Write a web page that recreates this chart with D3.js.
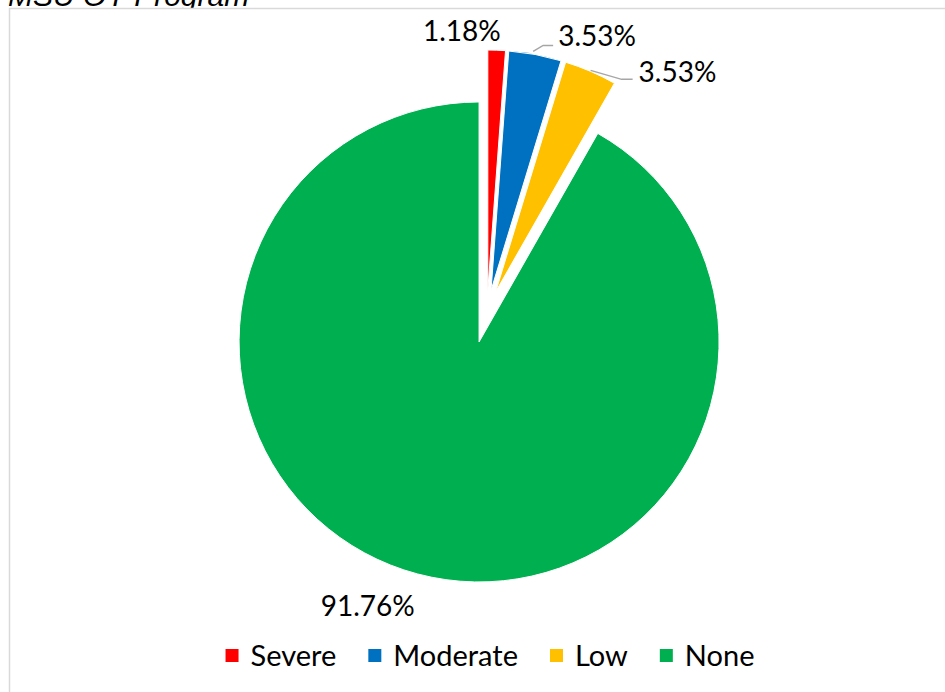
<!DOCTYPE html>
<html>
<head>
<meta charset="utf-8">
<script src="https://cdn.jsdelivr.net/npm/d3@7/dist/d3.min.js"></script>
<style>
  html, body { margin: 0; padding: 0; background: #fff; }
  svg { display: block; }
</style>
</head>
<body>
<svg id="chart" width="945" height="692"></svg>
<script>
// ---- data ----
const title = "MSU OY Program";
const categories = ["Severe", "Moderate", "Low", "None"];
const counts = [1, 3, 3, 78];
const colors = ["#FF0000", "#0070C0", "#FFC000", "#00B050"];

// ---- layout ----
const W = 945, H = 692;
const center = [487, 312];
const radius = 240;
const explode = [22, 22, 22, 31];
// label placement relative to the slice's outer mid point
const labelLayout = [
  { dx: 4, dy: -9, anchor: "end", leader: null },
  { dx: 23, dy: -8, anchor: "start", leader: [[-2, -3], [8, -9], [18, -9]] },
  { dx: 48, dy: 11, anchor: "start", leader: [[0, -1], [31, 8], [42, 8]] },
  { dx: -3, dy: 42, anchor: "end", leader: null }
];
const fontFamily = "Lato, 'Open Sans', sans-serif";
const labelSize = 28;
const legendSize = 29;

const svg = d3.select("#chart");

// title (partly cut off at the top, as in the source)
svg.append("text")
  .attr("x", 8).attr("y", 6)
  .attr("font-family", "'Liberation Sans', Arial, sans-serif")
  .attr("font-style", "italic")
  .attr("font-size", 30)
  .attr("fill", "#000")
  .text(title);

// chart area border
svg.append("rect")
  .attr("x", 9.5).attr("y", 8.5)
  .attr("width", 1000).attr("height", 1000)
  .attr("fill", "#fff")
  .attr("stroke", "#d9d9d9")
  .attr("stroke-width", 1.5);

const total = d3.sum(counts);
const pie = d3.pie().sort(null).value(d => d)(counts);
const arc = d3.arc().innerRadius(0).outerRadius(radius);

const g = svg.append("g").attr("transform", `translate(${center[0]},${center[1]})`);

pie.forEach((p, i) => {
  const mid = (p.startAngle + p.endAngle) / 2;
  const ox = explode[i] * Math.sin(mid);
  const oy = -explode[i] * Math.cos(mid);
  const sg = g.append("g").attr("transform", `translate(${ox},${oy})`);
  sg.append("path")
    .attr("d", arc(p))
    .attr("fill", colors[i])
    .attr("stroke", "#fff")
    .attr("stroke-width", 1);

  const px = ox + radius * Math.sin(mid);
  const py = oy - radius * Math.cos(mid);
  const L = labelLayout[i];
  if (L.leader) {
    g.append("path")
      .attr("d", d3.line()(L.leader.map(q => [px + q[0], py + q[1]])))
      .attr("fill", "none")
      .attr("stroke", "#a6a6a6")
      .attr("stroke-width", 1.5);
  }
  const pct = (counts[i] / total * 100).toFixed(2) + "%";
  g.append("text")
    .attr("x", px + L.dx)
    .attr("y", py + L.dy)
    .attr("text-anchor", L.anchor)
    .attr("font-family", fontFamily)
    .attr("font-size", labelSize)
    .attr("fill", "#000")
    .text(pct);
});

// legend: items laid out one after another, centred
const legendY = 666, sw = 13, textGap = 12, itemGap = 32, legendCenter = 490;
const lg = svg.append("g");
const items = categories.map((c, i) => {
  const it = lg.append("g");
  it.append("rect")
    .attr("x", 0).attr("y", -17)
    .attr("width", sw).attr("height", sw)
    .attr("fill", colors[i]);
  const t = it.append("text")
    .attr("x", sw + textGap).attr("y", 0)
    .attr("font-family", fontFamily)
    .attr("font-size", legendSize)
    .attr("fill", "#000")
    .text(c);
  return { g: it, w: sw + textGap + t.node().getComputedTextLength() };
});
const totalW = d3.sum(items, d => d.w) + itemGap * (items.length - 1);
let cx = legendCenter - totalW / 2;
items.forEach(it => {
  it.g.attr("transform", `translate(${cx},${legendY})`);
  cx += it.w + itemGap;
});
</script>
</body>
</html>
